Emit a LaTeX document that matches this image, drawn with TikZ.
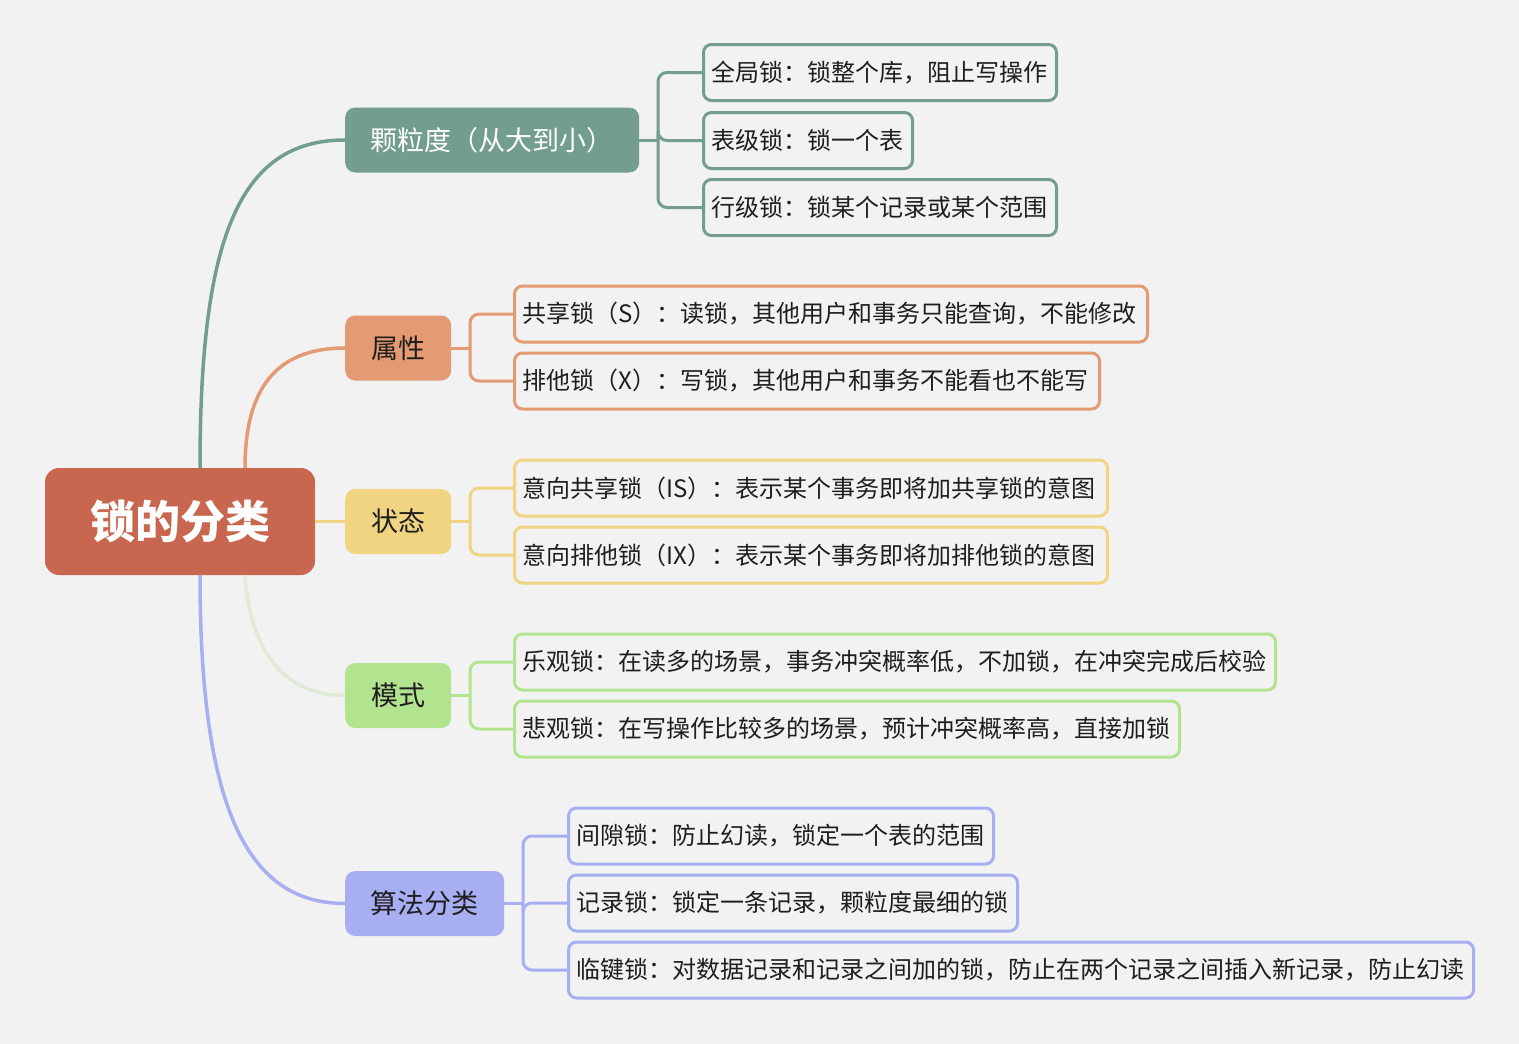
\documentclass[tikz,border=0pt]{standalone}
\usepackage{fontspec}
\setmainfont{Noto Sans CJK SC}
\definecolor{bg}{HTML}{F2F2F2}
\definecolor{rootc}{HTML}{C8664F}
\definecolor{cg}{HTML}{739E8D}
\definecolor{co}{HTML}{E49A72}
\definecolor{cy}{HTML}{F0D482}
\definecolor{cl}{HTML}{B2E48F}
\definecolor{clp}{HTML}{E0EAD6}
\definecolor{cp}{HTML}{A7AEF2}
\definecolor{txt}{HTML}{1E1E1E}
\tikzset{
  rootbox/.style={fill=rootc, rounded corners=14, minimum width=270, minimum height=107, text=white, font=\fontsize{45}{50}\selectfont\bfseries, inner sep=0},
  mainbox/.style={fill=#1, rounded corners=10, minimum height=65, text=txt, font=\fontsize{27}{31}\selectfont, inner sep=0, anchor=west},
  leafbox/.style={draw=#1, line width=3, fill=bg, rounded corners=8, minimum height=56, text=txt, font=\fontsize{24}{28}\selectfont, inner xsep=8, inner ysep=0, anchor=west, align=left},
  rootlink/.style={draw=#1, line width=3.5},
  brlink/.style={draw=#1, line width=3, rounded corners=9},
}
\begin{document}
\begin{tikzpicture}[x=1pt, y=-1pt]
\useasboundingbox[fill=bg] (0,0) rectangle (1519,1044);

% root
\node[rootbox] (root) at (180,521.5) {锁的分类};

% main branches
\node[mainbox=cg, minimum width=294, text=white] (m1) at (345,140) {颗粒度（从大到小）};
\node[mainbox=co, minimum width=106] (m2) at (345,348) {属性};
\node[mainbox=cy, minimum width=106] (m3) at (345,521.5) {状态};
\node[mainbox=cl, minimum width=106] (m4) at (345,695.5) {模式};
\node[mainbox=cp, minimum width=159] (m5) at (345,903.5) {算法分类};

% root connectors
\coordinate (r1) at (200,468);
\coordinate (r2) at (245,468);
\coordinate (r4) at (245,575);
\coordinate (r5) at (200,575);
\draw[rootlink=cg] (r1) .. controls (200,240) and (238,140) .. (m1.west);
\draw[rootlink=co] (r2) .. controls (245,390) and (275,348) .. (m2.west);
\draw[rootlink=cy] (root.east) -- (m3.west);
\draw[rootlink=clp] (r4) .. controls (250,652) and (285,695.5) .. (m4.west);
\draw[rootlink=cp] (r5) .. controls (200,810) and (248,903.5) .. (m5.west);

% leaves: granularity
\node[leafbox=cg, text width=337] (g1) at (702,72.5) {全局锁：锁整个库，阻止写操作};
\node[leafbox=cg, text width=193] (g2) at (702,140.5) {表级锁：锁一个表};
\node[leafbox=cg, text width=337] (g3) at (702,207.5) {行级锁：锁某个记录或某个范围};
% attributes
\node[leafbox=co, text width=617] (o1) at (513,314) {共享锁（S）：读锁，其他用户和事务只能查询，不能修改};
\node[leafbox=co, text width=569] (o2) at (513,381) {排他锁（X）：写锁，其他用户和事务不能看也不能写};
% states
\node[leafbox=cy, text width=577] (y1) at (513,488) {意向共享锁（IS）：表示某个事务即将加共享锁的意图};
\node[leafbox=cy, text width=577] (y2) at (513,555) {意向排他锁（IX）：表示某个事务即将加排他锁的意图};
% modes
\node[leafbox=cl, text width=745] (l1) at (513,662) {乐观锁：在读多的场景，事务冲突概率低，不加锁，在冲突完成后校验};
\node[leafbox=cl, text width=649] (l2) at (513,729) {悲观锁：在写操作比较多的场景，预计冲突概率高，直接加锁};
% algorithm
\node[leafbox=cp, text width=409] (p1) at (567,836) {间隙锁：防止幻读，锁定一个表的范围};
\node[leafbox=cp, text width=433] (p2) at (567,903) {记录锁：锁定一条记录，颗粒度最细的锁};
\node[leafbox=cp, text width=889] (p3) at (567,970) {临键锁：对数据记录和记录之间加的锁，防止在两个记录之间插入新记录，防止幻读};

% bracket connectors
\coordinate (b1) at (658,140);
\draw[brlink=cg] (m1.east) -- (b1);
\draw[brlink=cg] (b1) |- (g1.west);
\draw[brlink=cg] (b1) |- (g2.west);
\draw[brlink=cg] (b1) |- (g3.west);

\coordinate (b2) at (470,348);
\draw[brlink=co] (m2.east) -- (b2);
\draw[brlink=co] (b2) |- (o1.west);
\draw[brlink=co] (b2) |- (o2.west);

\coordinate (b3) at (470,521.5);
\draw[brlink=cy] (m3.east) -- (b3);
\draw[brlink=cy] (b3) |- (y1.west);
\draw[brlink=cy] (b3) |- (y2.west);

\coordinate (b4) at (470,695.5);
\draw[brlink=cl] (m4.east) -- (b4);
\draw[brlink=cl] (b4) |- (l1.west);
\draw[brlink=cl] (b4) |- (l2.west);

\coordinate (b5) at (523,903.5);
\draw[brlink=cp] (m5.east) -- (b5);
\draw[brlink=cp] (b5) |- (p1.west);
\draw[brlink=cp] (b5) |- (p2.west);
\draw[brlink=cp] (b5) |- (p3.west);
\end{tikzpicture}
\end{document}
